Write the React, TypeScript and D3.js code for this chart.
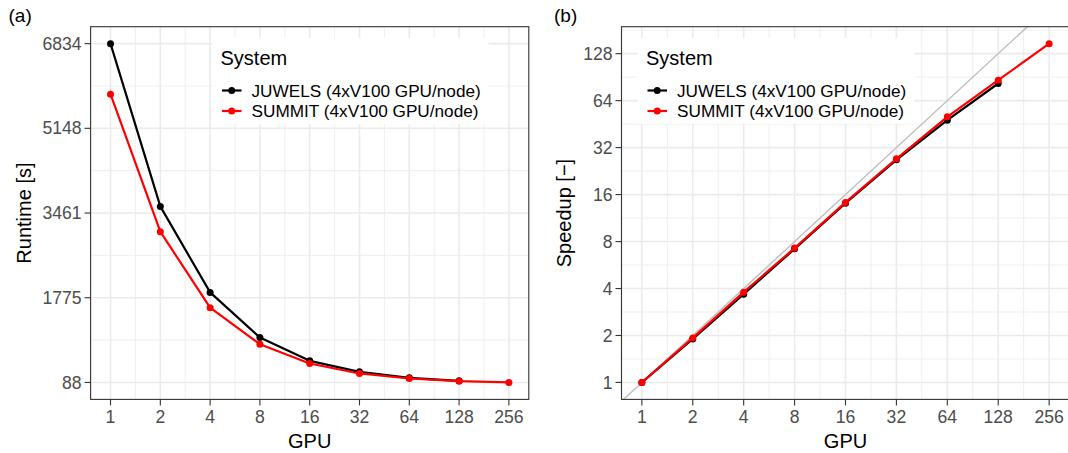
import React from 'react';
import * as d3 from 'd3';

// ---------- data ----------
const gpus = [1, 2, 4, 8, 16, 32, 64, 128, 256];
const juwelsGpus = [1, 2, 4, 8, 16, 32, 64, 128];
const summitGpus = [1, 2, 4, 8, 16, 32, 64, 128, 256];
const juwelsRuntime = [6834, 3593, 1881, 981, 518, 300, 181, 121];
const summitRuntime = [5828, 3091, 1577, 849, 465, 267, 167, 114, 88];
const juwelsSpeedup = [1, 1.9, 3.68, 7.18, 14.1, 26.7, 48.0, 82.4];
const summitSpeedup = [1, 1.93, 3.79, 7.26, 14.25, 27.1, 50.4, 86.5, 148.4];
const runtimeTicks = [88, 1775, 3461, 5148, 6834];
const speedupTicks = [1, 2, 4, 8, 16, 32, 64, 128];
const seriesNames = ['JUWELS (4xV100 GPU/node)', 'SUMMIT (4xV100 GPU/node)'];
const seriesColors = ['#000000', '#ff0000'];
const legendTitle = 'System';

const FONT = '"Liberation Sans", Arial, Helvetica, sans-serif';
const W = 1068;
const H = 453;

type Series = { x: number[]; y: number[]; color: string };

type PanelProps = {
  id: string;
  left: number;
  right: number;
  top: number;
  bottom: number;
  xScale: any;
  yScale: any;
  yTicks: number[];
  yMinor: number[];
  xMinor: number[];
  series: Series[];
  tag: string;
  tagX: number;
  yTitle: string;
  yTitleX: number;
  identity?: boolean;
  legendX: number;
};

function Panel(p: PanelProps) {
  const { left, right, top, bottom, xScale, yScale } = p;
  const line = (s: Series) =>
    d3
      .line<number>()
      .x((_, i) => xScale(s.x[i]))
      .y((d) => yScale(d))(s.y) as string;
  const grid = '#ebebeb';
  const border = '#333333';
  const tickLen = 6;
  const cx = (left + right) / 2;
  const cy = (top + bottom) / 2;
  const xd = xScale.domain();
  const identPath = d3
    .line<number>()
    .x((d) => xScale(d))
    .y((d) => yScale(d))([xd[0] / 2, xd[1] * 2]) as string;
  const lx = p.legendX;
  return (
    <g>
      <defs>
        <clipPath id={`clip-${p.id}`}>
          <rect x={left} y={top} width={right - left} height={bottom - top} />
        </clipPath>
      </defs>
      <rect x={left} y={top} width={right - left} height={bottom - top} fill="#ffffff" />
      {/* minor grid */}
      {p.xMinor.map((v, i) => (
        <line key={`xm${i}`} x1={xScale(v)} x2={xScale(v)} y1={top} y2={bottom} stroke={grid} strokeWidth={0.8} />
      ))}
      {p.yMinor.map((v, i) => (
        <line key={`ym${i}`} x1={left} x2={right} y1={yScale(v)} y2={yScale(v)} stroke={grid} strokeWidth={0.8} />
      ))}
      {/* major grid */}
      {gpus.map((v, i) => (
        <line key={`xg${i}`} x1={xScale(v)} x2={xScale(v)} y1={top} y2={bottom} stroke={grid} strokeWidth={1.6} />
      ))}
      {p.yTicks.map((v, i) => (
        <line key={`yg${i}`} x1={left} x2={right} y1={yScale(v)} y2={yScale(v)} stroke={grid} strokeWidth={1.6} />
      ))}
      <g clipPath={`url(#clip-${p.id})`}>
        {p.identity && <path d={identPath} fill="none" stroke="#bebebe" strokeWidth={1.4} />}
        {p.series.map((s, si) => (
          <g key={`s${si}`}>
            <path d={line(s)} fill="none" stroke={s.color} strokeWidth={2.2} strokeLinejoin="round" />
            {s.y.map((v, i) => (
              <circle key={i} cx={xScale(s.x[i])} cy={yScale(v)} r={3.5} fill={s.color} />
            ))}
          </g>
        ))}
      </g>
      {/* legend */}
      <rect x={lx - 8} y={38} width={276} height={86} fill="#ffffff" />
      <text x={lx} y={65} fontSize={20} fontFamily={FONT} fill="#000">
        {legendTitle}
      </text>
      {seriesNames.map((n, i) => {
        const ky = 90.5 + i * 20.5;
        return (
          <g key={`lg${i}`}>
            <line x1={lx + 1.5} x2={lx + 21} y1={ky} y2={ky} stroke={seriesColors[i]} strokeWidth={2.2} />
            <circle cx={lx + 11.2} cy={ky} r={3.5} fill={seriesColors[i]} />
            <text x={lx + 31} y={ky} dy="0.35em" fontSize={17.2} fontFamily={FONT} fill="#000">
              {n}
            </text>
          </g>
        );
      })}
      {/* border */}
      <rect x={left} y={top} width={right - left} height={bottom - top} fill="none" stroke={border} strokeWidth={1.1} />
      {/* x ticks */}
      {gpus.map((v, i) => (
        <g key={`xt${i}`}>
          <line x1={xScale(v)} x2={xScale(v)} y1={bottom} y2={bottom + tickLen} stroke={border} strokeWidth={1.1} />
          <text x={xScale(v)} y={423} textAnchor="middle" fontSize={17.6} fontFamily={FONT} fill="#4d4d4d">
            {String(v)}
          </text>
        </g>
      ))}
      {/* y ticks */}
      {p.yTicks.map((v, i) => (
        <g key={`yt${i}`}>
          <line x1={left - tickLen} x2={left} y1={yScale(v)} y2={yScale(v)} stroke={border} strokeWidth={1.1} />
          <text x={left - 9} y={yScale(v)} dy="0.35em" textAnchor="end" fontSize={17.6} fontFamily={FONT} fill="#4d4d4d">
            {String(v)}
          </text>
        </g>
      ))}
      {/* titles */}
      <text x={cx} y={448} textAnchor="middle" fontSize={20} fontFamily={FONT} fill="#000">
        GPU
      </text>
      <text
        transform={`translate(${p.yTitleX},${cy}) rotate(-90)`}
        textAnchor="middle"
        fontSize={20}
        fontFamily={FONT}
        fill="#000"
      >
        {p.yTitle}
      </text>
      <text x={p.tagX} y={22} fontSize={19} fontFamily={FONT} fill="#000">
        {p.tag}
      </text>
    </g>
  );
}

export default function App() {
  const top = 26.7;
  const bottom = 399.4;

  // panel (a)
  const aLeft = 90.6;
  const aRight = 528.8;
  const lg = d3.extent(gpus.map((g) => Math.log2(g))) as [number, number];
  const lgPad = (lg[1] - lg[0]) * 0.05;
  const xA = d3
    .scaleLog()
    .base(2)
    .domain([Math.pow(2, lg[0] - lgPad), Math.pow(2, lg[1] + lgPad)])
    .range([aLeft, aRight]);
  const rtExt = d3.extent([...juwelsRuntime, ...summitRuntime]) as [number, number];
  const rtPad = (rtExt[1] - rtExt[0]) * 0.05;
  const yA = d3
    .scaleLinear()
    .domain([rtExt[0] - rtPad, rtExt[1] + rtPad])
    .range([bottom, top]);
  const yAMinor = runtimeTicks.slice(0, -1).map((v, i) => (v + runtimeTicks[i + 1]) / 2);
  const xMinor = gpus.slice(0, -1).map((g) => g * Math.SQRT2);

  // panel (b)
  const bLeft = 621.5;
  const bRight = 1069.5;
  const xB = d3
    .scaleLog()
    .base(2)
    .domain([Math.pow(2, lg[0] - lgPad), Math.pow(2, lg[1] + lgPad)])
    .range([bLeft, bRight]);
  const spExt = d3.extent([...juwelsSpeedup, ...summitSpeedup].map((v) => Math.log2(v))) as [number, number];
  const spPad = (spExt[1] - spExt[0]) * 0.05;
  const yDomB = [Math.pow(2, spExt[0] - spPad), Math.pow(2, spExt[1] + spPad)];
  const yB = d3.scaleLog().base(2).domain(yDomB).range([bottom, top]);
  const yBMinor = [...speedupTicks.map((t) => t / Math.SQRT2), speedupTicks[speedupTicks.length - 1] * Math.SQRT2].filter(
    (v) => v >= yDomB[0] && v <= yDomB[1]
  );

  const runtimeSeries: Series[] = [
    { x: juwelsGpus, y: juwelsRuntime, color: seriesColors[0] },
    { x: summitGpus, y: summitRuntime, color: seriesColors[1] },
  ];
  const speedupSeries: Series[] = [
    { x: juwelsGpus, y: juwelsSpeedup, color: seriesColors[0] },
    { x: summitGpus, y: summitSpeedup, color: seriesColors[1] },
  ];

  return (
    <svg
      width={W}
      height={H}
      viewBox={`0 0 ${W} ${H}`}
      style={{ position: 'absolute', left: 0, top: 0, background: '#ffffff' }}
    >
      <rect x={0} y={0} width={W} height={H} fill="#ffffff" />
      <Panel
        id="a"
        left={aLeft}
        right={aRight}
        top={top}
        bottom={bottom}
        xScale={xA}
        yScale={yA}
        yTicks={runtimeTicks}
        yMinor={yAMinor}
        xMinor={xMinor}
        series={runtimeSeries}
        tag="(a)"
        tagX={8.5}
        yTitle="Runtime [s]"
        yTitleX={30.5}
        legendX={220.5}
      />
      <Panel
        id="b"
        left={bLeft}
        right={bRight}
        top={top}
        bottom={bottom}
        xScale={xB}
        yScale={yB}
        yTicks={speedupTicks}
        yMinor={yBMinor}
        xMinor={xMinor}
        series={speedupSeries}
        tag="(b)"
        tagX={554}
        yTitle="Speedup [−]"
        yTitleX={570.5}
        identity
        legendX={646}
      />
    </svg>
  );
}
